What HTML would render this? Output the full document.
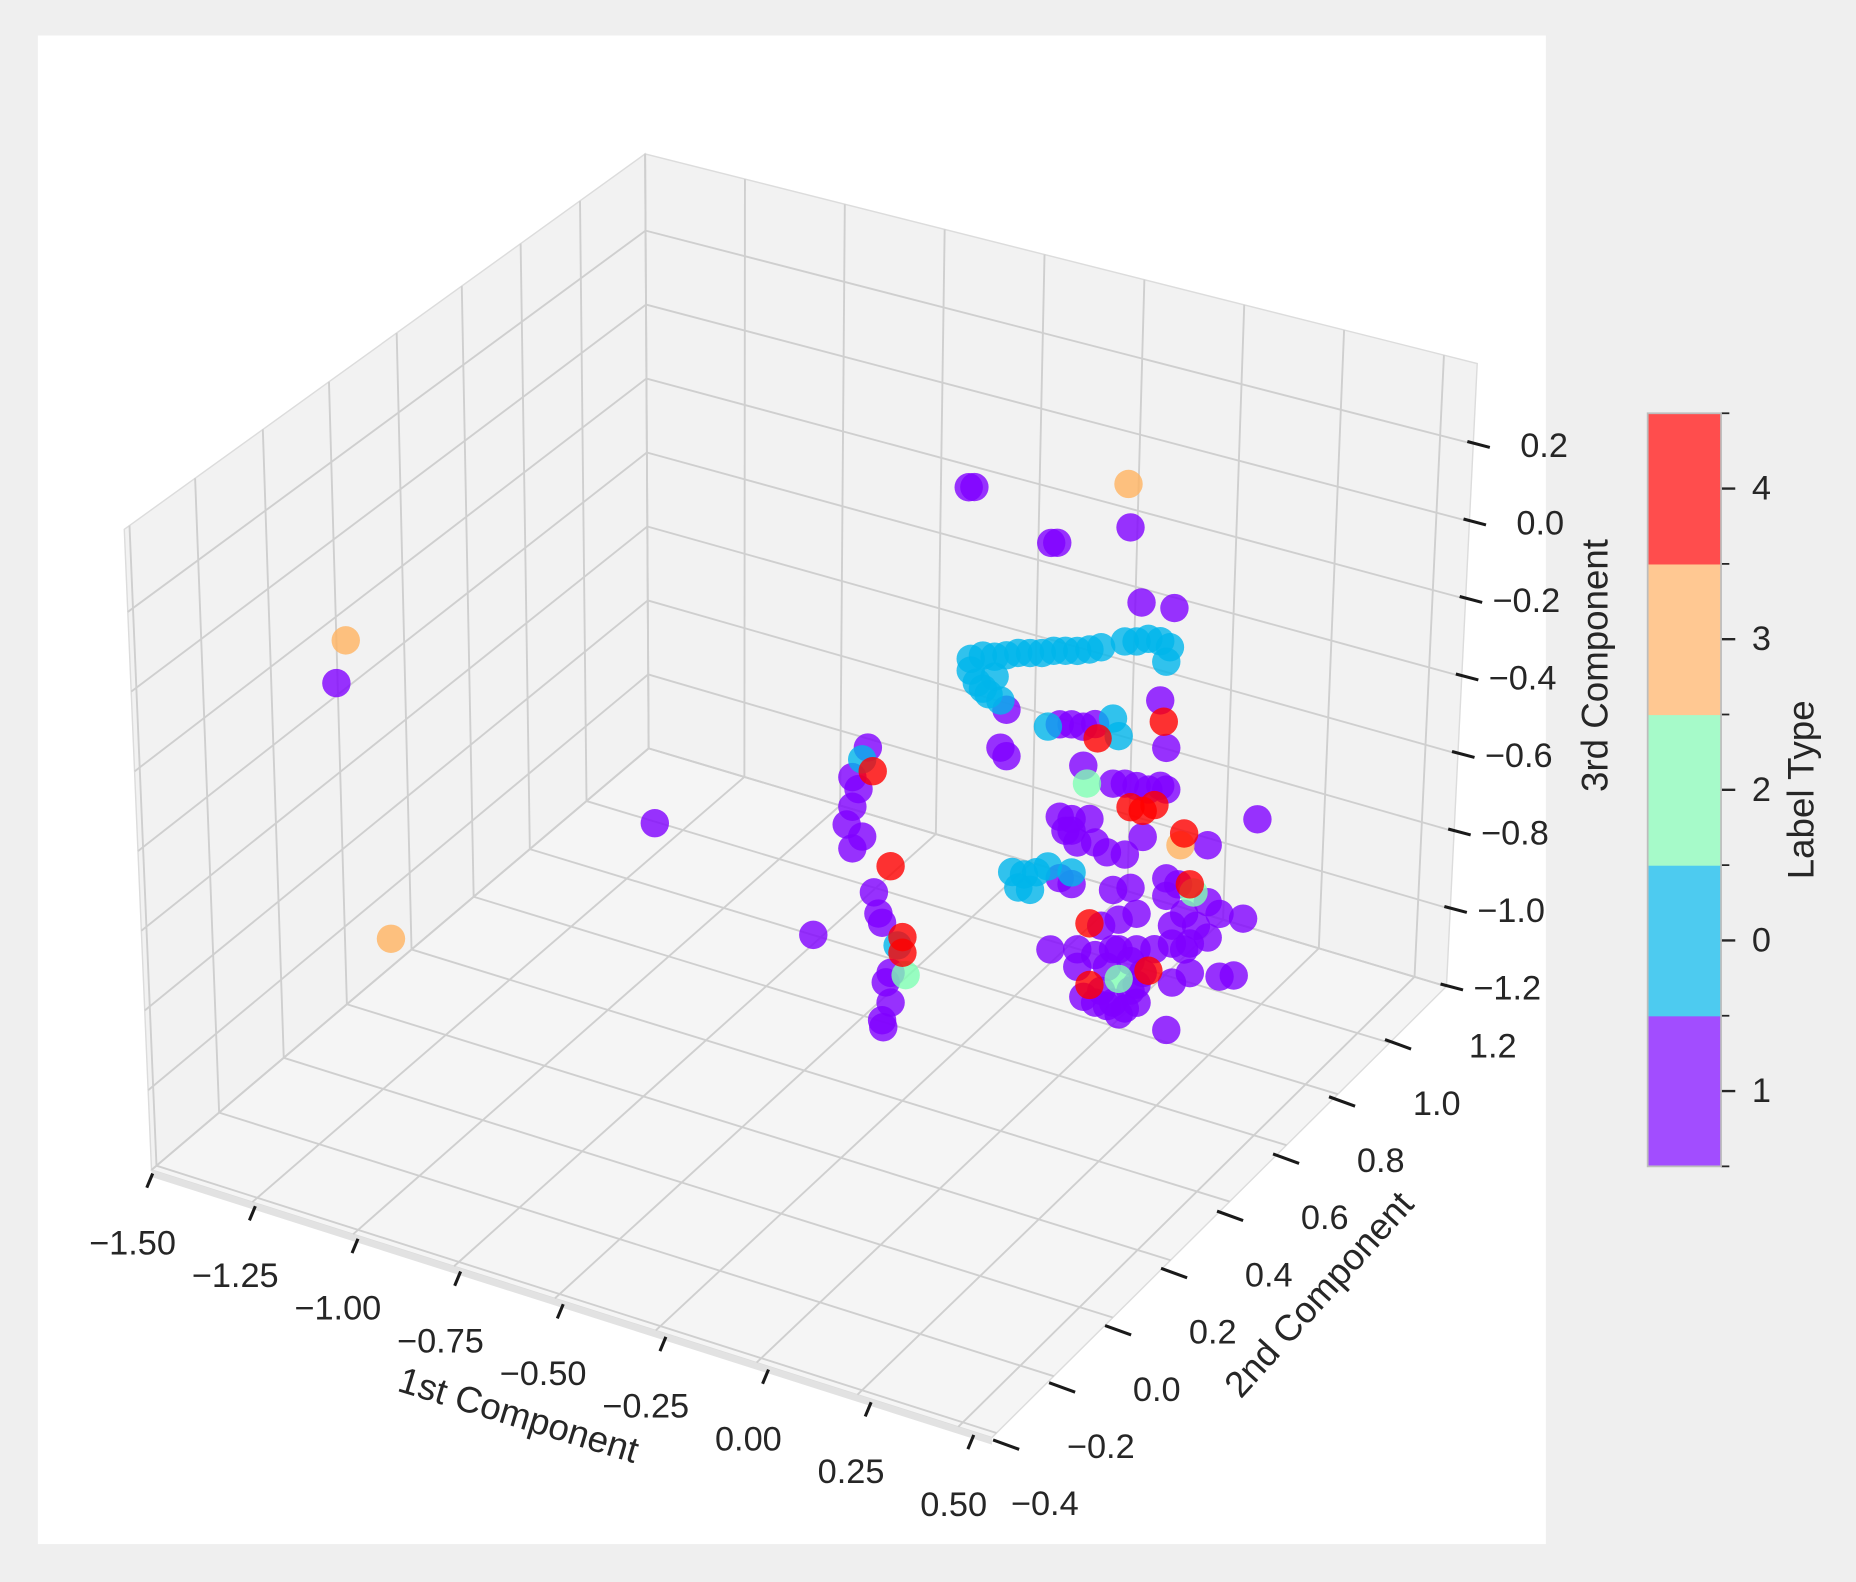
<!DOCTYPE html>
<html><head><meta charset="utf-8">
<style>
html,body{margin:0;padding:0;background:#efefef;}
svg{display:block;}
text{font-family:"Liberation Sans",Arial,sans-serif;fill:#262626;}
</style></head>
<body>
<svg id="chart" width="1856" height="1582" viewBox="0 0 1568 1336" preserveAspectRatio="none" xmlns="http://www.w3.org/2000/svg">
  <rect x="0" y="0" width="1568" height="1336" fill="#efefef"/>
  <rect x="32" y="30" width="1274" height="1274" fill="#ffffff"/>
  <g id="panes"></g>
  <g id="grid"></g>
  <g id="ticks"></g>
  <g id="points"></g>
  <text x="0" y="0" font-size="31" text-anchor="middle" transform="translate(435,1205) rotate(17)">1st Component</text>
  <text x="0" y="0" font-size="31" text-anchor="middle" transform="translate(1122,1100) rotate(-48)">2nd Component</text>
  <text x="0" y="0" font-size="31" text-anchor="middle" transform="translate(1358,562) rotate(-90)">3rd Component</text>
  <g id="colorbar"></g>
  <text x="0" y="0" font-size="31" text-anchor="middle" transform="translate(1532,667) rotate(-90)">Label Type</text>
</svg>
<script>
// ---- data (points plotted at mid depth of 2nd component) ----
const xTicks = [-1.5,-1.25,-1.0,-0.75,-0.5,-0.25,0.0,0.25,0.5];
const xTickLabels = ["\u22121.50","\u22121.25","\u22121.00","\u22120.75","\u22120.50","\u22120.25","0.00","0.25","0.50"];
const yTicks = [-0.4,-0.2,0.0,0.2,0.4,0.6,0.8,1.0,1.2];
const yTickLabels = ["\u22120.4","\u22120.2","0.0","0.2","0.4","0.6","0.8","1.0","1.2"];
const zTicks = [-1.2,-1.0,-0.8,-0.6,-0.4,-0.2,0.0,0.2];
const zTickLabels = ["\u22121.2","\u22121.0","\u22120.8","\u22120.6","\u22120.4","\u22120.2","0.0","0.2"];
const cbLabels = ["1","0","2","3","4"];
const pc2Level = 0.4;

const label1X = [-1.642,-0.859,-0.469,-0.087,-0.073,0.116,0.131,0.311,0.338,0.419,0.623,
 -0.335,-0.373,-0.358,-0.373,-0.387,-0.349,-0.373,-0.320,-0.309,-0.300,-0.279,-0.291,-0.279,-0.300,-0.297,
 0.006,-0.009,0.006,0.384,0.399,0.137,0.166,0.195,0.224,0.195,0.268,0.297,0.326,0.355,0.384,0.399,0.137,0.166,0.151,0.180,0.224,0.253,0.297,0.341,0.501,0.137,0.166,0.268,0.311,0.399,0.428,0.501,0.530,0.588,0.443,0.472,0.501,0.239,0.282,0.326,0.180,0.224,0.268,0.326,0.370,0.114,0.413,0.443,0.239,0.311,0.413,0.457,0.530,0.565,0.253,0.297,0.326,0.399,0.195,0.268,0.180,0.341,
 0.282,0.311,0.253,0.224,0.282,0.166,0.210,0.413,0.457,0.399,0.326];
const label1Z = [-0.550,-0.663,-0.827,0.442,0.447,0.363,0.368,0.464,0.280,0.291,-0.187,
 -0.304,-0.392,-0.418,-0.468,-0.518,-0.537,-0.575,-0.671,-0.722,-0.743,-0.865,-0.893,-0.941,-0.993,-1.010,
 -0.100,-0.202,-0.219,0.043,-0.074,-0.096,-0.087,-0.084,-0.068,-0.184,-0.207,-0.198,-0.195,-0.195,-0.176,-0.181,-0.333,-0.330,-0.365,-0.386,-0.372,-0.388,-0.380,-0.321,-0.292,-0.491,-0.497,-0.480,-0.461,-0.409,-0.415,-0.438,-0.459,-0.453,-0.486,-0.508,-0.529,-0.581,-0.552,-0.523,-0.660,-0.661,-0.632,-0.614,-0.600,-0.681,-0.572,-0.578,-0.748,-0.725,-0.672,-0.634,-0.620,-0.606,-0.783,-0.775,-0.751,-0.798,-0.777,-0.769,-0.705,-0.670,
 -0.628,-0.649,-0.682,-0.783,-0.795,-0.360,-0.316,-0.526,-0.558,-0.454,-0.705];
const label0X = [-0.349,-0.262,-0.082,-0.052,-0.023,0.006,0.035,0.064,0.093,0.122,0.151,0.180,0.210,0.239,0.297,0.326,0.355,0.384,0.408,0.399,-0.082,-0.067,-0.052,-0.038,-0.009,-0.023,0.108,0.268,0.282,0.020,0.049,0.079,0.108,0.035,0.064,0.166];
const label0Z = [-0.339,-0.789,0.003,0.021,0.027,0.040,0.055,0.064,0.073,0.088,0.097,0.106,0.119,0.134,0.167,0.176,0.192,0.195,0.187,0.147,-0.027,-0.053,-0.064,-0.074,-0.081,-0.024,-0.111,-0.040,-0.081,-0.512,-0.509,-0.494,-0.470,-0.547,-0.544,-0.467];
const label2X = [-0.242,0.204,0.466,0.282];
const label2Z = [-0.859,-0.227,-0.424,-0.704];
const label3X = [-1.619,-1.508,0.306,0.434];
const label3Z = [-0.433,-1.164,0.574,-0.313];
const label4X = [-0.323,-0.279,-0.250,-0.250,0.230,0.393,0.311,0.341,0.370,0.443,0.457,0.210,0.210,0.355];
const label4Z = [-0.361,-0.591,-0.764,-0.804,-0.103,-0.009,-0.254,-0.254,-0.230,-0.280,-0.406,-0.584,-0.742,-0.660];

const NS = "http://www.w3.org/2000/svg";
function mk(tag, attrs, parent){ const e=document.createElementNS(NS,tag); for(const k in attrs) e.setAttribute(k,attrs[k]); parent.appendChild(e); return e; }

// ---- axis projection ----
const L0=[128,988], XV=[687,207], YV=[410,-365], ZH=510;
function project(x,y,z){
  const a=(x+1.5)/2, b=(y+0.4)/1.6, c=(z+1.2)/1.55;
  return [L0[0]+a*XV[0]+b*YV[0], L0[1]+a*XV[1]+b*YV[1]-c*ZH];
}

// ---- box geometry ----
const BL=[128,988], BB=[548,632], TB=[545,130], TL=[105,447], BR=[1222,833], TR=[1248,307], FC=[838,1214];
function lerp(p,q,t){return [p[0]+(q[0]-p[0])*t, p[1]+(q[1]-p[1])*t];}
function bil(p00,p10,p11,p01,u,v){ const a=lerp(p00,p10,u), b=lerp(p01,p11,u); return lerp(a,b,v); }
const panes=document.getElementById('panes');
function poly(pts,fill,name){ const e=mk('polygon',{points:pts.map(p=>p.join(',')).join(' '),fill:fill,stroke:'#dcdcdc','stroke-width':1.2},panes);
  
   }
poly([BL,BB,TB,TL],'#f2f2f2','left-wall-pane');
poly([BB,BR,TR,TB],'#f2f2f2','back-wall-pane');
poly([BL,FC,BR,BB],'#f5f5f5','floor-pane');
mk('polygon',{points:[BL,FC,[FC[0],FC[1]+6],[BL[0],BL[1]+6]].map(p=>p.join(',')).join(' '),fill:'#e2e2e2'},panes);

const grid=document.getElementById('grid');
function gl(p,q,name){ const e=mk('line',{x1:p[0],y1:p[1],x2:q[0],y2:q[1],stroke:'#cfcfcf','stroke-width':1.6},grid);
  
   }
const xf = xTicks.map(v=>(v+1.5)/2*0.96);
const yfr = [0.01,0.136,0.266,0.393,0.523,0.648,0.761,0.875,1.0];
const zf = zTicks.map(v=>(v+1.2)/1.4*0.871);
xf.forEach(f=>gl(lerp(BB,BR,f),lerp(TB,TR,f),'back-wall-x-gridline'));
zf.forEach(f=>gl(lerp(BB,TB,f),lerp(BR,TR,f),'back-wall-z-gridline'));
yfr.forEach(f=>gl(lerp(BL,BB,f),lerp(TL,TB,f),'left-wall-y-gridline'));
zf.forEach(f=>gl(lerp(BL,TL,f),lerp(BB,TB,f),'left-wall-z-gridline'));
xf.forEach(f=>gl(bil(BL,FC,BR,BB,f,0),bil(BL,FC,BR,BB,f,1),'floor-x-gridline'));
yfr.forEach(f=>gl(bil(BL,FC,BR,BB,0,f),bil(BL,FC,BR,BB,1,f),'floor-y-gridline'));

// ---- ticks ----
const ticks=document.getElementById('ticks');
function tl(p,q,name){ const e=mk('line',{x1:p[0],y1:p[1],x2:q[0],y2:q[1],stroke:'#1a1a1a','stroke-width':2.6},ticks);
  
   }
function tt(x,y,s,anchor,name){ const e=mk('text',{x:x,y:y,'font-size':29,'text-anchor':anchor,'dominant-baseline':'central'},ticks); e.textContent=s;
  
   }
xTicks.forEach((v,i)=>{
  const f=(v+1.5)/2*0.977; const p=lerp(BL,FC,f);
  tl([p[0]+1,p[1]+3],[p[0]-4,p[1]+15],'x-tick');
  tt(p[0]-16,p[1]+62,xTickLabels[i],'middle','x-tick-label');
});
yTicks.forEach((v,i)=>{
  const k=(v+0.2)/0.2; const c=[850+k*47.3,1220-k*48.3];
  if(i>0) tl([c[0]-11,c[1]-4],[c[0]+11,c[1]+4],'y-tick');
  tt(c[0]+80,c[1]+2,yTickLabels[i],'middle','y-tick-label');
});
zTicks.forEach((v,i)=>{
  const p=lerp(BR,TR,zf[i]);
  tl([p[0]-5,p[1]-2],[p[0]+14,p[1]+3],'z-tick');
  tt(p[0]+80,p[1]+2,zTickLabels[i],'end','z-tick-label');
});

// ---- points ----
const pts=document.getElementById('points');
const series=[
  {xs:label1X, zs:label1Z, color:'#8000ff', name:'label-1-point'},
  {xs:label0X, zs:label0Z, color:'#00b5eb', name:'label-0-point'},
  {xs:label2X, zs:label2Z, color:'#80ffb4', name:'label-2-point'},
  {xs:label3X, zs:label3Z, color:'#ffb360', name:'label-3-point'},
  {xs:label4X, zs:label4Z, color:'#ff0000', name:'label-4-point'}
];
series.forEach(s=>{
  s.xs.forEach((x,i)=>{
    const p=project(x,pc2Level,s.zs[i]);
    const c=mk('circle',{cx:p[0].toFixed(1),cy:p[1].toFixed(1),r:12,fill:s.color,'fill-opacity':0.8},pts);
    
    
  });
});

// ---- colorbar ----
const cb=document.getElementById('colorbar');
const cbColors=['#a24dff','#4dcbf0','#a6fac9','#ffc892','#ff4d4d'];
const cbX=1392, cbW=62, cbTop=349, cbH=636, seg=cbH/5;
cbColors.forEach((col,i)=>{
  const r=mk('rect',{x:cbX,y:cbTop+cbH-(i+1)*seg,width:cbW,height:seg+0.5,fill:col},cb);
  
  
  const t=mk('line',{x1:cbX+cbW,y1:cbTop+cbH-(i+0.5)*seg,x2:cbX+cbW+12,y2:cbTop+cbH-(i+0.5)*seg,stroke:'#262626','stroke-width':2},cb);
  
  
  const tx=mk('text',{x:cbX+cbW+26,y:cbTop+cbH-(i+0.5)*seg,'font-size':29,'dominant-baseline':'central'},cb);
  tx.textContent=cbLabels[i];
  
  
});
for(let i=0;i<=5;i++){ mk('line',{x1:cbX+cbW,y1:cbTop+i*seg,x2:cbX+cbW+7,y2:cbTop+i*seg,stroke:'#262626','stroke-width':1.5},cb); }
const bd=mk('rect',{x:cbX,y:cbTop,width:cbW,height:cbH,fill:'none',stroke:'#bdbdbd','stroke-width':1.5},cb);


</script>
</body></html>
